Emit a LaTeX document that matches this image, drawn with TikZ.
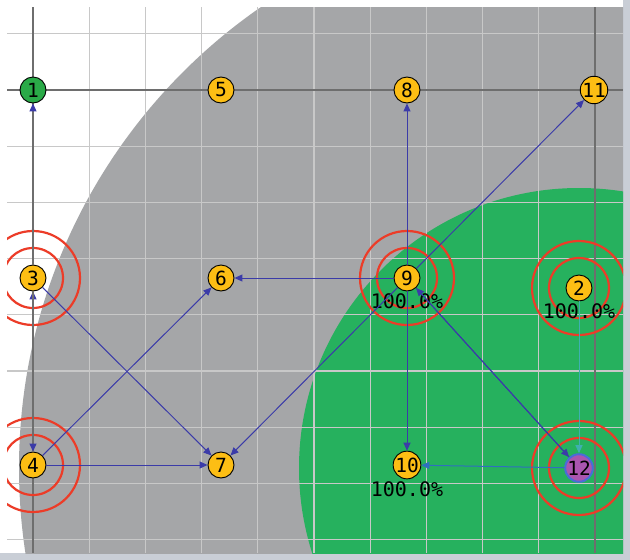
\documentclass[tikz,border=0pt]{standalone}
\usepackage{fontspec}
\usepackage{xcolor}
\usepackage{tikz}
\usetikzlibrary{arrows.meta,positioning}
\newfontfamily\motefont{DejaVu Sans Mono}
\definecolor{rangegray}{HTML}{A5A6A8}
\definecolor{rangegreen}{HTML}{26B15E}
\definecolor{gridlight}{HTML}{C8C8C8}
\definecolor{gridaxis}{HTML}{6E6E6E}
\definecolor{ringred}{HTML}{EC3C28}
\definecolor{moteyellow}{HTML}{FDBE14}
\definecolor{motegreen}{HTML}{2AAA48}
\definecolor{motepurple}{HTML}{AA55AF}
\definecolor{moteedge}{HTML}{4A6CD8}
\definecolor{arrowblue}{HTML}{3B3BA8}
\definecolor{arrowsteel}{HTML}{2F6FC0}
\definecolor{arrowteal}{HTML}{3FAFB0}
\definecolor{barcolor}{HTML}{C9CED6}
\tikzset{
	mote/.style={circle, draw=black, line width=0.9pt, fill=moteyellow, minimum size=26pt, inner sep=0pt, font=\motefont\fontsize{19.5}{19.5}\selectfont},
	pct/.style={inner sep=0pt, font=\motefont\fontsize{20}{20}\selectfont},
	gridline/.style={draw=gridlight, line width=1.2pt},
	axisline/.style={draw=gridaxis, line width=1.2pt},
	ring/.style={draw=ringred, line width=2.2pt},
	link/.style={draw=arrowblue, line width=1pt, -{Triangle[length=8pt,width=7pt]}},
	axislink/.style={draw=gridaxis, line width=1.2pt, -{Triangle[length=8pt,width=7pt,color=arrowblue]}}
}

\begin{document}
\begin{tikzpicture}[x=1pt,y=-1pt]
		\useasboundingbox (0,0) rectangle (630,560);
		\fill[white] (0,0) rectangle (630,560);
		\fill[barcolor] (623,0) rectangle (630,560);
		\fill[barcolor] (0,553) rectangle (630,560);
		\foreach \id/\x/\y in {1/33/90, 5/221/90, 8/407/90, 11/594/90, 3/33/278, 6/221/278, 9/407/278, 2/579/288, 4/33/465, 7/221/465, 10/407/465, 12/579/468}
			\coordinate (c\id) at (\x,\y);
		\begin{scope}
			\clip (7,7) rectangle (623,553);
			\fill[rangegray] (c12) circle[radius=560];
			\fill[rangegreen] (c12) circle[radius=280];
			\foreach \k in {0,...,10}
				\draw[gridline] ({33+56.2*\k},7) -- ({33+56.2*\k},553);
			\foreach \k in {-1,...,8}
				\draw[gridline] (7,{90+56.2*\k}) -- (623,{90+56.2*\k});
			\draw[axisline] (33,7) -- (33,553);
			\draw[axisline] (595,7) -- (595,553);
			\draw[axisline] (7,90) -- (623,90);
			\foreach \id in {3,4,9,2,12} {
				\draw[ring] (c\id) circle[radius=30];
				\draw[ring] (c\id) circle[radius=47];
			}
		\end{scope}
		\foreach \id in {2,...,11}
			\node[mote] (m\id) at (c\id) {\id};
		\node[mote, fill=motegreen] (m1) at (c1) {1};
		\node[mote, fill=motepurple, draw=moteedge, line width=2pt] (m12) at (c12) {12};
		\node[pct, below=2.5pt of m9] (p9) {100.0\%};
		\node[pct, below=2.5pt of m2] (p2) {100.0\%};
		\node[pct, below=2.5pt of m10] (p10) {100.0\%};
		\draw[axislink] (m3) -- (m1);
		\draw[axislink] (m4) -- (m3);
		\draw[axislink] (m3) -- (m4);
		\foreach \a/\b in {9/8, 9/11, 9/6, 9/7, 9/10, 9/12, 12/9, 4/6, 3/7, 4/7}
			\draw[link] (m\a) -- (m\b);
		\draw[link, draw=arrowsteel] (m12) -- (m10);
		\draw[link, draw=arrowteal] (m2) -- (m12);
\end{tikzpicture}
\end{document}
